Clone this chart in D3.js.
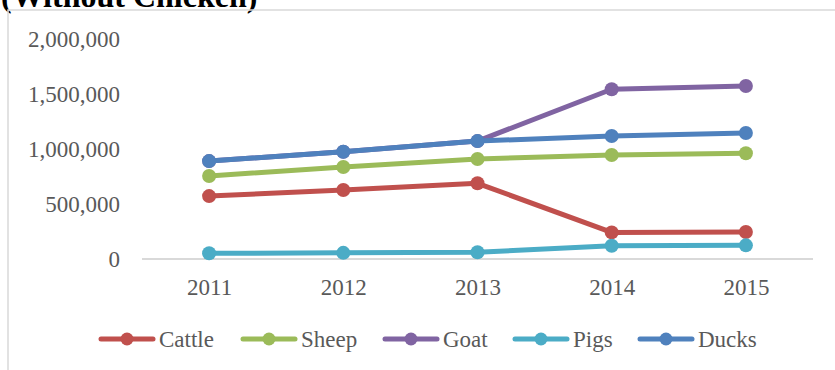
<!DOCTYPE html>
<html>
<head>
<meta charset="utf-8">
<script src="https://cdn.jsdelivr.net/npm/d3@7"></script>
<style>
  html, body { margin: 0; padding: 0; background: #fff; }
  svg { display: block; }
  text { font-family: "Liberation Serif", "Times New Roman", serif; }
</style>
</head>
<body>
<svg id="chart" width="835" height="370"></svg>
<script>
// Livestock population by year
const years = ["2011", "2012", "2013", "2014", "2015"];
const seriesNames = ["Cattle", "Sheep", "Goat", "Pigs", "Ducks"];
const cattle = [572000, 627000, 688000, 242000, 245000];
const sheep  = [755000, 836000, 909000, 945000, 962000];
const goat   = [890000, 975000, 1072000, 1543000, 1573000];
const pigs   = [52000, 56000, 61000, 121000, 124000];
const ducks  = [890000, 975000, 1072000, 1118000, 1145000];
const yTicks = [0, 500000, 1000000, 1500000, 2000000];
const colors = ["#C0504D", "#9BBB59", "#8064A2", "#4BACC6", "#4F81BD"];

const series = [cattle, sheep, goat, pigs, ducks].map((vals, i) => ({
  name: seriesNames[i],
  color: colors[i],
  values: vals.map((v, j) => ({ year: years[j], value: v }))
}));

const svg = d3.select("#chart");

// Title (partly above the frame)
svg.append("text")
  .attr("x", 1).attr("y", 7)
  .attr("font-size", 32).attr("font-weight", "bold")
  .attr("fill", "#000")
  .text("(Without Chicken)");

// Chart frame
svg.append("path")
  .attr("d", "M8,371 V10 H836")
  .attr("fill", "none")
  .attr("stroke", "#d9d9d9")
  .attr("stroke-width", 1.5);

const x = d3.scalePoint().domain(years).range([142, 813]).padding(0.5);
const y = d3.scaleLinear().domain([0, 2000000]).range([259, 39]);

// Y axis labels
const yAxis = d3.axisLeft(y).tickValues(yTicks).tickFormat(d3.format(",")).tickSize(0).tickPadding(0);
const yg = svg.append("g").attr("transform", "translate(120,0)").call(yAxis);
yg.select(".domain").remove();
yg.selectAll("text")
  .attr("font-family", "Liberation Serif, Times New Roman, serif")
  .attr("font-size", 23).attr("fill", "#595959");

// X axis
const xAxis = d3.axisBottom(x).tickSize(0).tickPadding(0);
const xg = svg.append("g").attr("transform", "translate(0,259)").call(xAxis);
xg.select(".domain").remove();
xg.selectAll("text")
  .attr("font-family", "Liberation Serif, Times New Roman, serif")
  .attr("font-size", 23).attr("fill", "#595959")
  .attr("dy", null).attr("y", 36);

svg.append("line")
  .attr("x1", 142).attr("x2", 813)
  .attr("y1", y(0)).attr("y2", y(0))
  .attr("stroke", "#d9d9d9").attr("stroke-width", 2);

// Series lines and markers
const line = d3.line().x(d => x(d.year)).y(d => y(d.value));
const sg = svg.selectAll("g.series").data(series).join("g").attr("class", "series");
sg.append("path")
  .attr("d", d => line(d.values))
  .attr("fill", "none")
  .attr("stroke", d => d.color)
  .attr("stroke-width", 5)
  .attr("stroke-linejoin", "round")
  .attr("stroke-linecap", "round");
sg.selectAll("circle").data(d => d.values.map(v => ({ ...v, color: d.color }))).join("circle")
  .attr("cx", d => x(d.year)).attr("cy", d => y(d.value))
  .attr("r", 7).attr("fill", d => d.color);

// Legend
const legendX = [99, 241, 383, 513, 638];
const lg = svg.selectAll("g.legend").data(series).join("g")
  .attr("class", "legend")
  .attr("transform", (d, i) => `translate(${legendX[i]},339)`);
lg.append("line")
  .attr("x1", 2).attr("x2", 54)
  .attr("stroke", d => d.color).attr("stroke-width", 5)
  .attr("stroke-linecap", "round");
lg.append("circle").attr("cx", 28).attr("r", 6.5).attr("fill", d => d.color);
lg.append("text")
  .attr("x", 60).attr("y", 8)
  .attr("font-size", 23).attr("fill", "#595959")
  .text(d => d.name);
</script>
</body>
</html>
